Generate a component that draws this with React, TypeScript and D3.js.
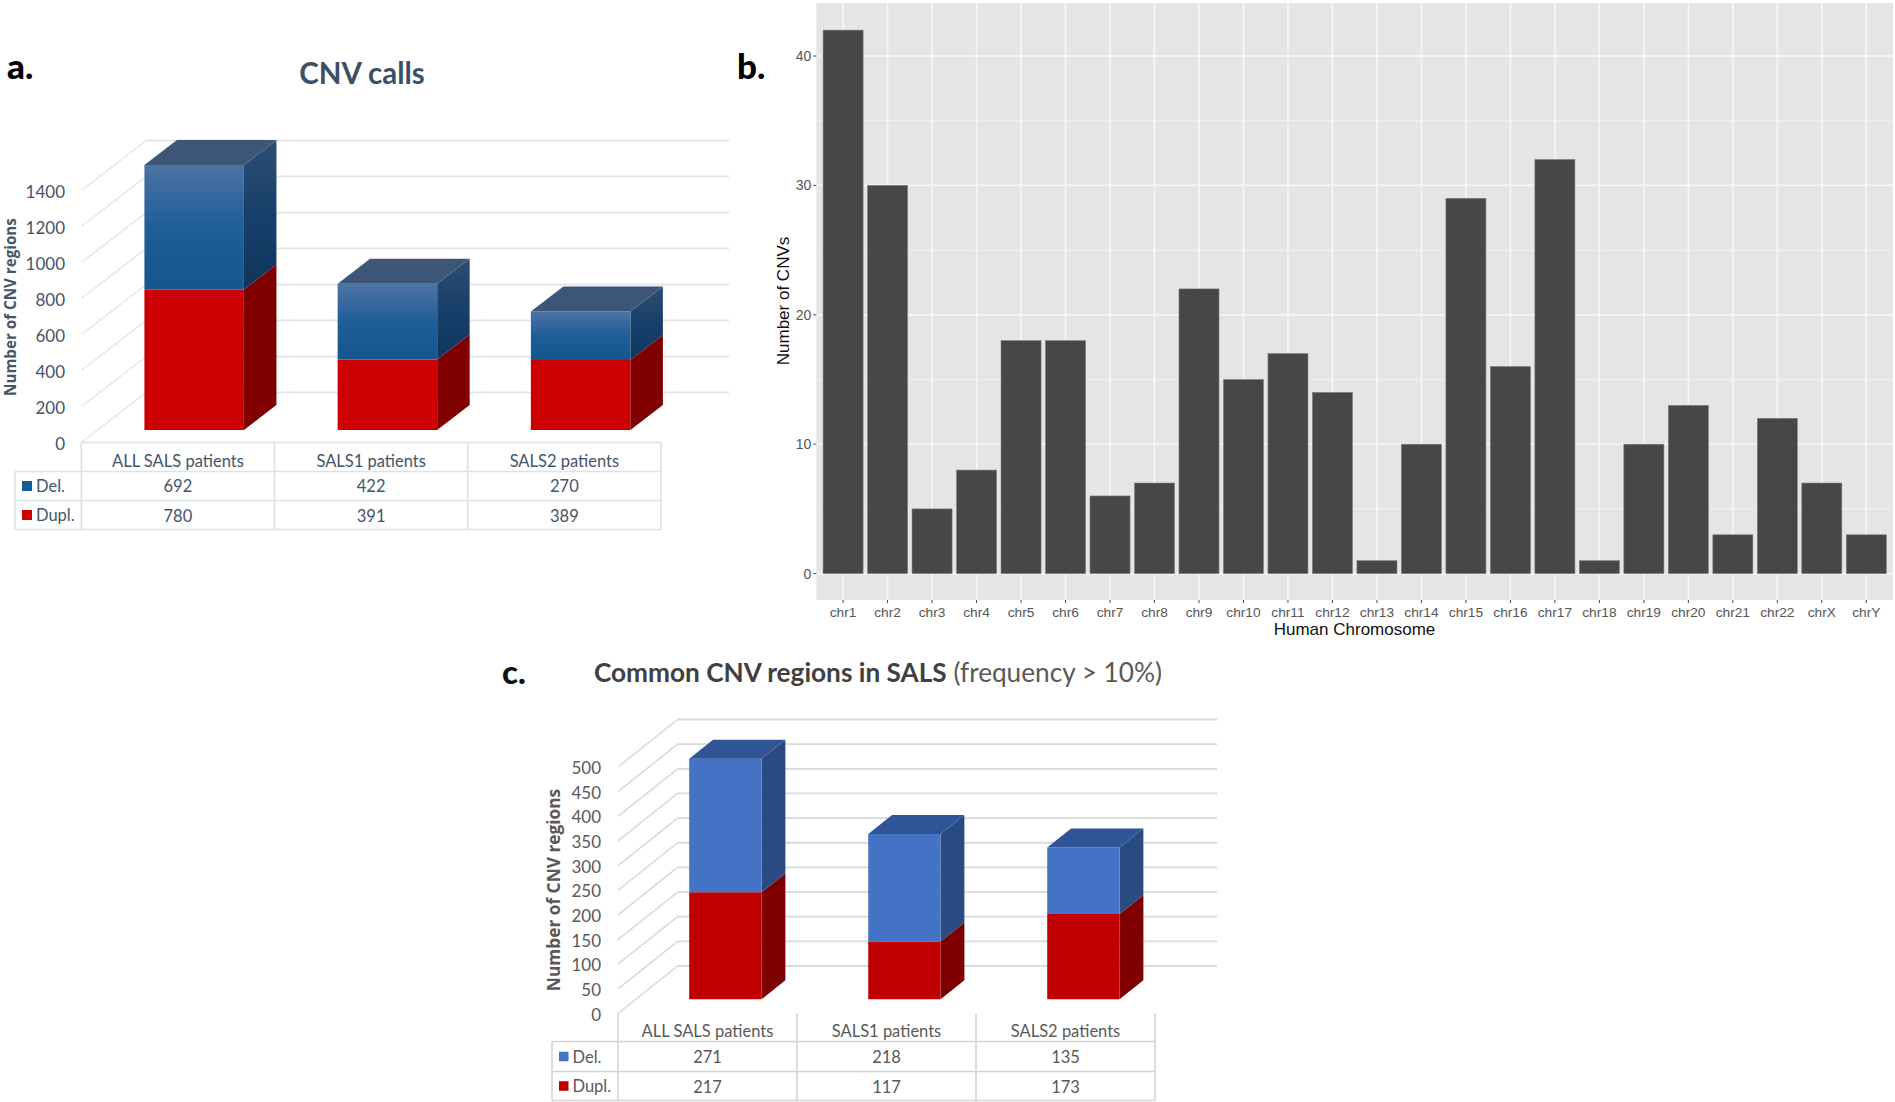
import React from "react";
import * as d3 from "d3";

const groups = ["ALL SALS patients", "SALS1 patients", "SALS2 patients"];
const callsDel = [692, 422, 270];
const callsDup = [780, 391, 389];
const callsTicks = [0, 200, 400, 600, 800, 1000, 1200, 1400];
const commonDel = [271, 218, 135];
const commonDup = [217, 117, 173];
const commonTicks = [0, 50, 100, 150, 200, 250, 300, 350, 400, 450, 500];
const chromosomes = ["chr1","chr2","chr3","chr4","chr5","chr6","chr7","chr8","chr9","chr10","chr11","chr12","chr13","chr14","chr15","chr16","chr17","chr18","chr19","chr20","chr21","chr22","chrX","chrY"];
const chromosomeCounts = [42,30,5,8,18,18,6,7,22,15,17,14,1,10,29,16,32,1,10,13,3,12,7,3];
const chromosomeMajor = [0, 10, 20, 30, 40];
const chromosomeMinor = [5, 15, 25, 35];

const NARROW = "Lato, 'Open Sans', sans-serif";
const WIDE = "'Open Sans', 'Noto Sans', sans-serif";
const ARIAL = "'Liberation Sans', Arial, sans-serif";

function Chart3D({ cfg, del, dup, ticks }: { cfg: any; del: number[]; dup: number[]; ticks: number[] }) {
  const x = d3.scaleBand<string>().domain(groups).range([cfg.x0, cfg.x1]);
  const y = d3.scaleLinear().domain([0, cfg.maxTick]).range([cfg.y0, cfg.yTop]);
  const depthX = d3.scaleLinear().domain([0, 1]).range([0, cfg.dx]);
  const depthY = d3.scaleLinear().domain([0, 1]).range([0, cfg.dy]);
  const P = (px: number, v: number, d: number) => `${px + depthX(d)},${y(v) + depthY(d)}`;
  const bw = x.bandwidth() * cfg.barFrac;
  const colsX = [...groups.map((g) => x(g)!), cfg.x1];
  const lineProps = { stroke: cfg.tableStroke, strokeWidth: 1.6 };
  return (
    <g>
      <defs>
        <linearGradient id={cfg.id + "front"} x1="0" y1="0" x2="0" y2="1">
          {cfg.delFill.split(",").map((c: string, i: number, a: string[]) => <stop key={i} offset={i / (a.length - 1)} stopColor={c} />)}
        </linearGradient>
        <linearGradient id={cfg.id + "side"} x1="0" y1="0" x2="0" y2="1">
          {cfg.delSide.split(",").map((c: string, i: number, a: string[]) => <stop key={i} offset={i / (a.length - 1)} stopColor={c} />)}
        </linearGradient>
      </defs>
      {ticks.map((t) => (
        <g key={t}>
          <line x1={cfg.x0} x2={cfg.x0 + cfg.dx} y1={y(t)} y2={y(t) + cfg.dy} stroke={cfg.gridStroke} strokeWidth={1.5} />
          <line x1={cfg.x0 + cfg.dx} x2={cfg.gridRight} y1={y(t) + cfg.dy} y2={y(t) + cfg.dy} stroke={cfg.gridStroke} strokeWidth={1.8} />
          <text x={cfg.labelX} y={y(t) + 1} dy="0.36em" textAnchor="end" fontFamily={NARROW} fontSize={cfg.fontSize} fill={cfg.textFill}>{t}</text>
        </g>
      ))}
      {groups.map((g, i) => {
        const left = x(g)! + (x.bandwidth() - bw) / 2;
        const right = left + bw;
        const total = del[i] + dup[i];
        return (
          <g key={g}>
            <polygon points={[P(right, 0, cfg.d0), P(right, 0, cfg.d1), P(right, dup[i], cfg.d1), P(right, dup[i], cfg.d0)].join(" ")} fill={cfg.dupSide} />
            <polygon points={[P(right, dup[i], cfg.d0), P(right, dup[i], cfg.d1), P(right, total, cfg.d1), P(right, total, cfg.d0)].join(" ")} fill={`url(#${cfg.id}side)`} />
            <polygon points={[P(left, 0, cfg.d0), P(right, 0, cfg.d0), P(right, dup[i], cfg.d0), P(left, dup[i], cfg.d0)].join(" ")} fill={cfg.dupFill} />
            <polygon points={[P(left, dup[i], cfg.d0), P(right, dup[i], cfg.d0), P(right, total, cfg.d0), P(left, total, cfg.d0)].join(" ")} fill={`url(#${cfg.id}front)`} />
            <polygon points={[P(left, total, cfg.d0), P(right, total, cfg.d0), P(right, total, cfg.d1), P(left, total, cfg.d1)].join(" ")} fill={cfg.delTop} />
          </g>
        );
      })}
      {colsX.map((cx, i) => <line key={i} x1={cx} x2={cx} y1={cfg.rows[0]} y2={cfg.rows[3]} {...lineProps} />)}
      <line x1={cfg.tableLeft} x2={cfg.tableLeft} y1={cfg.rows[1]} y2={cfg.rows[3]} {...lineProps} />
      {cfg.tableTopLine && <line x1={cfg.x0} x2={cfg.x1} y1={cfg.rows[0]} y2={cfg.rows[0]} {...lineProps} />}
      {[1, 2, 3].map((r) => <line key={r} x1={cfg.tableLeft} x2={cfg.x1} y1={cfg.rows[r]} y2={cfg.rows[r]} {...lineProps} />)}
      {groups.map((g, i) => {
        const cx = x(g)! + x.bandwidth() / 2;
        const mid = (r: number) => (cfg.rows[r] + cfg.rows[r + 1]) / 2;
        const tp = { x: cx, textAnchor: "middle" as const, dy: "0.36em", fontFamily: NARROW, fontSize: cfg.fontSize - 0.5, fill: cfg.textFill };
        return (
          <g key={g}>
            <text {...tp} y={mid(0) + 4}>{g}</text>
            <text {...tp} y={mid(1) + 0.5}>{del[i]}</text>
            <text {...tp} y={mid(2) + 1}>{dup[i]}</text>
          </g>
        );
      })}
      {([["Del.", cfg.delTopLegend], ["Dupl.", cfg.dupFill]] as any[]).map(([name, c], i) => {
        const my = (cfg.rows[i + 1] + cfg.rows[i + 2]) / 2;
        return (
          <g key={name}>
            <rect x={cfg.tableLeft + 7} y={my - cfg.swatch / 2} width={cfg.swatch} height={cfg.swatch} fill={c} />
            <text x={cfg.tableLeft + 11 + cfg.swatch} y={my + 0.5} dy="0.36em" fontFamily={NARROW} fontSize={cfg.fontSize - 0.5} fill={cfg.textFill}>{name}</text>
          </g>
        );
      })}
      <text transform={`translate(${cfg.yLabelX},${cfg.yLabelY}) rotate(-90)`} textAnchor="middle" fontFamily={WIDE} fontWeight={700} fontSize={cfg.yLabelSize} fill={cfg.textFill}>{cfg.yLabel}</text>
    </g>
  );
}

const cfgA: any = {
  id: "a", x0: 81.3, x1: 661, y0: 442.5, yTop: 190.5, maxTick: 1400, dx: 65, dy: -50, gridRight: 729, d0: 0.25, d1: 0.75, barFrac: 0.515,
  tableLeft: 15, rows: [442.5, 471.5, 500.5, 529.5], tableTopLine: true, labelX: 65, fontSize: 17, textFill: "#44546a", gridStroke: "#e4e6ea", tableStroke: "#dde1e8",
  delFill: "#4d73a3,#1f5e99,#15568f", delSide: "#2f4d73,#17406b,#10355c", delTop: "#3d5678", delTopLegend: "#1a5a96", dupFill: "#cc0000", dupSide: "#800000",
  yLabel: "Number of CNV regions", yLabelX: 16, yLabelY: 307, yLabelSize: 15.2, swatch: 10,
};
const cfgC: any = {
  id: "c", x0: 618, x1: 1155, y0: 1013.5, yTop: 767, maxTick: 500, dx: 59.6, dy: -47.5, gridRight: 1217, d0: 0.3, d1: 0.7, barFrac: 0.404,
  tableLeft: 552, rows: [1013.5, 1041.5, 1071.5, 1100.5], tableTopLine: false, labelX: 601, fontSize: 17, textFill: "#595959", gridStroke: "#d9d9d9", tableStroke: "#d4d4d4",
  delFill: "#4472c4,#4472c4", delSide: "#2a4a82,#2a4a82", delTop: "#2f5597", delTopLegend: "#4472c4", dupFill: "#c00000", dupSide: "#7f0000",
  yLabel: "Number of CNV regions", yLabelX: 560, yLabelY: 890, yLabelSize: 17.3, swatch: 9.5,
};

function ChromosomePanel() {
  const step = 44.48;
  const left = 816.4, right = 1893, top = 3, bottom = 600;
  const x = d3.scalePoint<string>().domain(chromosomes).range([left + 0.6 * step, right - 0.6 * step]);
  const y = d3.scaleLinear().domain([0, 40]).range([573.6, 56]);
  const bw = step * 0.9;
  return (
    <g>
      <rect x={left} y={top} width={right - left} height={bottom - top} fill="#e5e5e5" />
      {chromosomeMinor.map((t) => <line key={t} x1={left} x2={right} y1={y(t)} y2={y(t)} stroke="#f2f2f2" strokeWidth={0.9} />)}
      {chromosomeMajor.map((t) => <line key={t} x1={left} x2={right} y1={y(t)} y2={y(t)} stroke="#f7f7f7" strokeWidth={1.6} />)}
      {chromosomes.map((c) => <line key={c} x1={x(c)} x2={x(c)} y1={top} y2={bottom} stroke="#f7f7f7" strokeWidth={1.6} />)}
      {chromosomes.map((c, i) => (
        <rect key={c} x={x(c)! - bw / 2} y={y(chromosomeCounts[i])} width={bw} height={y(0) - y(chromosomeCounts[i])} fill="#474747" stroke="#7d7d7d" strokeWidth={0.6} />
      ))}
      {chromosomeMajor.map((t) => (
        <g key={t}>
          <line x1={left - 3} x2={left} y1={y(t)} y2={y(t)} stroke="#444" strokeWidth={1} />
          <text x={left - 5} y={y(t)} dy="0.36em" textAnchor="end" fontFamily={ARIAL} fontSize={14} fill="#555">{t}</text>
        </g>
      ))}
      {chromosomes.map((c) => (
        <g key={c}>
          <line x1={x(c)} x2={x(c)} y1={bottom} y2={bottom + 3} stroke="#444" strokeWidth={1} />
          <text x={x(c)} y={612} dy="0.36em" textAnchor="middle" fontFamily={ARIAL} fontSize={13.7} fill="#555">{c}</text>
        </g>
      ))}
      <text x={1354.5} y={629} dy="0.36em" textAnchor="middle" fontFamily={ARIAL} fontSize={17} fill="#111">Human Chromosome</text>
      <text transform="translate(783,301) rotate(-90)" dy="0.36em" textAnchor="middle" fontFamily={ARIAL} fontSize={17} fill="#111">Number of CNVs</text>
    </g>
  );
}

export default function App() {
  return (
    <svg width={1895} height={1102} style={{ position: "absolute", left: 0, top: 0, display: "block", background: "#fff" }}>
      <text x={7} y={79} fontFamily={NARROW} fontWeight={900} fontSize={35} fill="#000">a.</text>
      <text x={362} y={84} textAnchor="middle" fontFamily={NARROW} fontWeight={700} fontSize={29.5} fill="#3b4f66">CNV calls</text>
      <text x={737} y={79} fontFamily={NARROW} fontWeight={900} fontSize={35} fill="#000">b.</text>
      <Chart3D cfg={cfgA} del={callsDel} dup={callsDup} ticks={callsTicks} />
      <ChromosomePanel />
      <text x={502} y={684} fontFamily={NARROW} fontWeight={900} fontSize={33} fill="#111">c.</text>
      <text x={594} y={682} fontFamily={NARROW} fontSize={26.2} fill="#595959">
        <tspan fontWeight={700} fill="#404040">Common CNV regions in SALS</tspan> (frequency &gt; 10%)
      </text>
      <Chart3D cfg={cfgC} del={commonDel} dup={commonDup} ticks={commonTicks} />
    </svg>
  );
}
